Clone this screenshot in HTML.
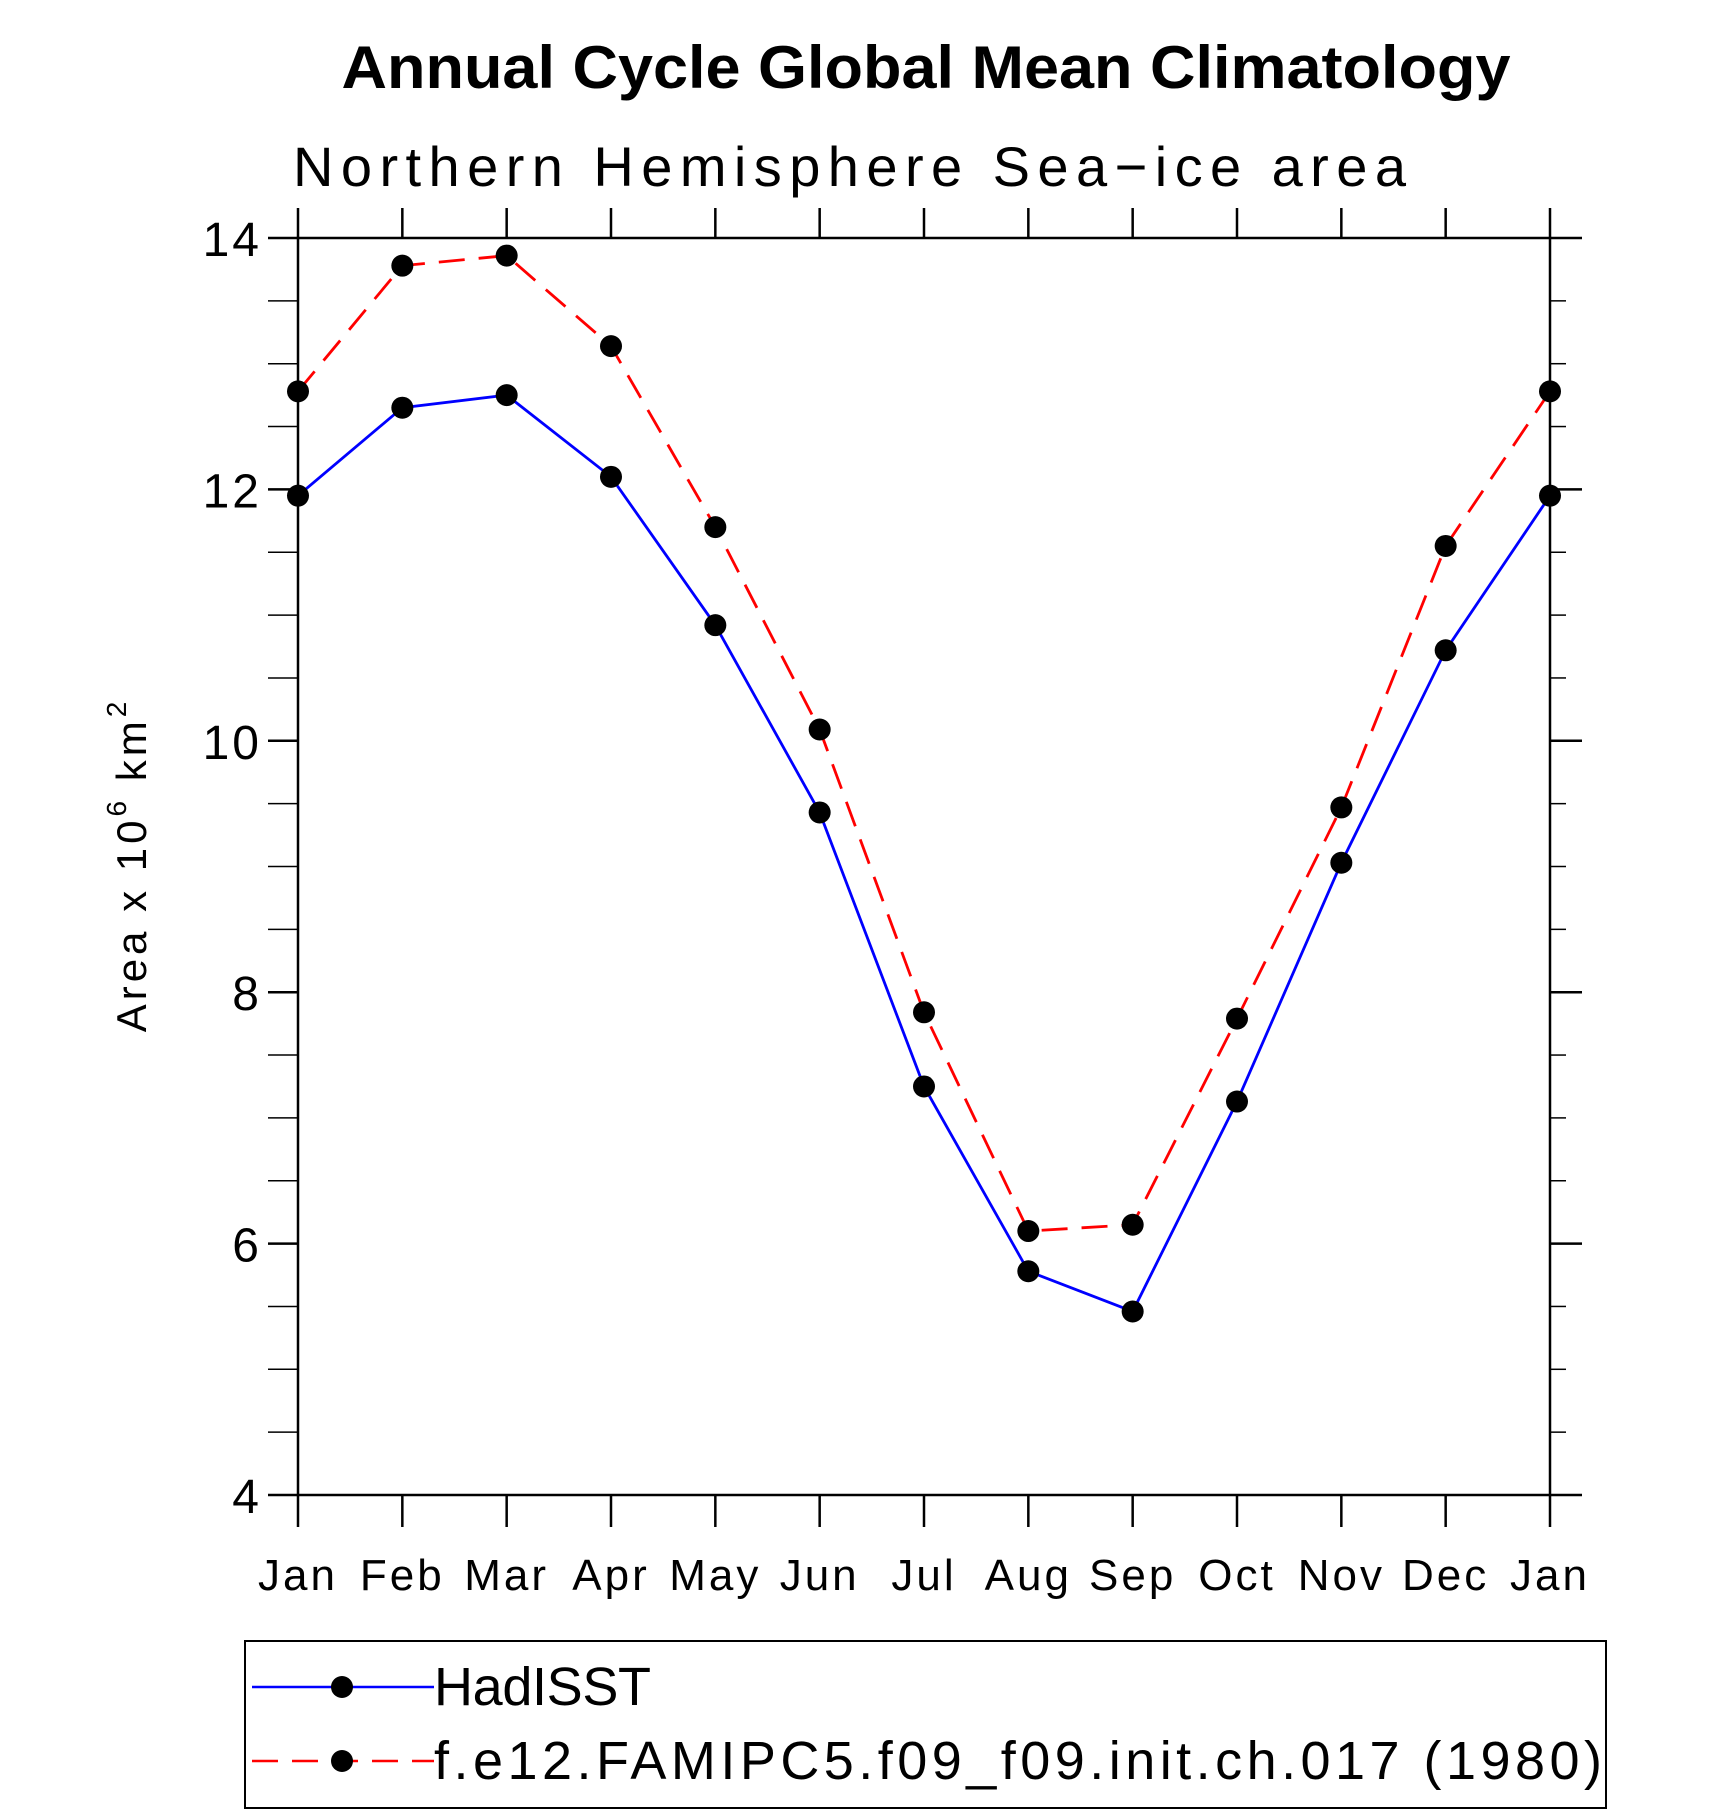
<!DOCTYPE html>
<html><head><meta charset="utf-8"><style>
html,body{margin:0;padding:0;background:#fff;}
svg{display:block;font-family:"Liberation Sans",sans-serif;}
</style></head><body>
<svg id="chart" width="1710" height="1811" viewBox="0 0 1710 1811">
<text x="926" y="88" text-anchor="middle" font-size="60" font-weight="bold" textLength="1169" lengthAdjust="spacingAndGlyphs">Annual Cycle Global Mean Climatology</text>
<text x="293" y="186" font-size="56" font-weight="300" textLength="1113" lengthAdjust="spacing">Northern  Hemisphere  Sea−ice  area</text>
<g id="axes"></g>
<g id="series"></g>
<text transform="translate(146,865) rotate(-90)" text-anchor="middle" font-size="42" font-weight="300" letter-spacing="4">Area x 10<tspan dy="-20" font-size="28">6</tspan><tspan dy="20"> km</tspan><tspan dy="-20" font-size="28">2</tspan></text>
<rect x="245" y="1641" width="1361" height="167" fill="none" stroke="#000" stroke-width="2"/>
<g>
<line x1="252" y1="1687" x2="434" y2="1687" stroke="#0000ff" stroke-width="2.5"/>
<circle cx="342" cy="1687" r="11" fill="#000"/>
<text x="434" y="1705" font-size="54" font-weight="300" textLength="217" lengthAdjust="spacing">HadISST</text>
</g>
<g>
<line x1="252" y1="1761" x2="434" y2="1761" stroke="#ff0000" stroke-width="2.5" stroke-dasharray="26,14"/>
<circle cx="342" cy="1761" r="11" fill="#000"/>
<text x="434" y="1779" font-size="54" font-weight="300" textLength="1168" lengthAdjust="spacing">f.e12.FAMIPC5.f09_f09.init.ch.017 (1980)</text>
</g>
</svg>
<script>
const months = ["Jan","Feb","Mar","Apr","May","Jun","Jul","Aug","Sep","Oct","Nov","Dec","Jan"];
const hadisst = [11.95,12.65,12.75,12.1,10.92,9.43,7.25,5.78,5.46,7.13,9.03,10.72,11.95];
const model = [12.78,13.78,13.86,13.14,11.7,10.09,7.84,6.1,6.15,7.79,9.47,11.55,12.78];
const yTicks = [4,6,8,10,12,14];
const NS="http://www.w3.org/2000/svg";
const L=298,R=1550,T=238,B=1495,yMin=4,yMax=14;
function xs(i){return L+(R-L)*i/(months.length-1);}
function ys(v){return B-(B-T)*(v-yMin)/(yMax-yMin);}
function mk(tag,attrs,parent){const e=document.createElementNS(NS,tag);for(const k in attrs)e.setAttribute(k,attrs[k]);parent.appendChild(e);return e;}
const ax=document.getElementById('axes');
const frame=mk('rect',{x:L,y:T,width:R-L,height:B-T,fill:'none',stroke:'#000','stroke-width':2.5},ax);


for(let v=yMin;v<=yMax+1e-9;v+=0.5){
  const y=ys(v);const major=Math.abs(v-Math.round(v/2)*2)<1e-9;
  mk('line',{x1:L-30,y1:y,x2:L,y2:y,stroke:'#000','stroke-width':major?2.5:1.5},ax);
  mk('line',{x1:R,y1:y,x2:R+(major?32:16),y2:y,stroke:'#000','stroke-width':major?2.5:1.5},ax);
}
yTicks.forEach(v=>{
  const t=mk('text',{x:L-36,y:ys(v)+18,'text-anchor':'end','font-size':48,'font-weight':300,'letter-spacing':3},ax);
  t.textContent=v;
  
  
});
months.forEach((m,i)=>{
  const x=xs(i);
  mk('line',{x1:x,y1:T-30,x2:x,y2:T,stroke:'#000','stroke-width':2.5},ax);
  mk('line',{x1:x,y1:B,x2:x,y2:B+32,stroke:'#000','stroke-width':2.5},ax);
  const t=mk('text',{x:x,y:1590,'text-anchor':'middle','font-size':44,'font-weight':300,'letter-spacing':3},ax);
  t.textContent=m;
  
  
});
const sg=document.getElementById('series');
function drawSeries(vals,color,dash,name){
  const pts=vals.map((v,i)=>xs(i)+','+ys(v)).join(' ');
  const p=mk('polyline',{points:pts,fill:'none',stroke:color,'stroke-width':2.8,'stroke-dasharray':dash},sg);
  
  
  vals.forEach((v,i)=>{
    const c=mk('circle',{cx:xs(i),cy:ys(v),r:11,fill:'#000'},sg);
    
    
  });
}
drawSeries(hadisst,'#0000ff','none','hadisst');
drawSeries(model,'#ff0000','26,14','model');
</script>
</body></html>
